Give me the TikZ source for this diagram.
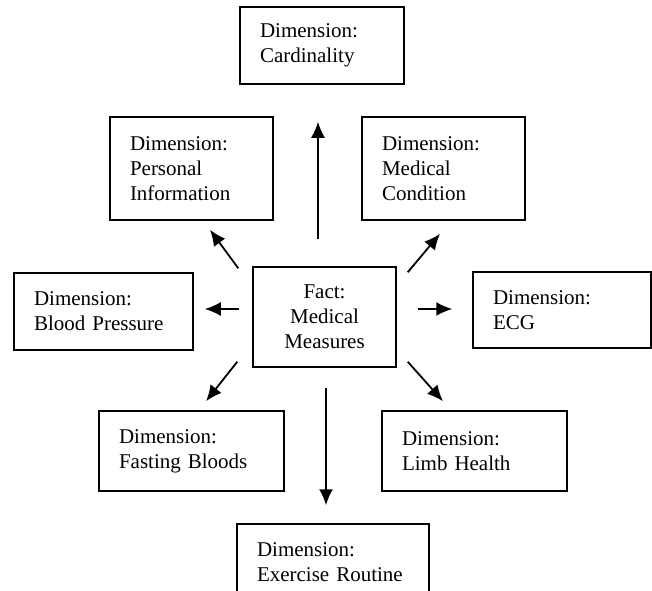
\documentclass[tikz,border=0pt]{standalone}
\usepackage{fontspec}
\setmainfont{Liberation Serif}
\usepackage{tikz}
\usetikzlibrary{positioning,calc,arrows.meta}
\definecolor{Ink}{HTML}{000000}
\tikzset{
	dimbox/.style={
		draw=Ink,
		line width=1.5pt,
		inner xsep=20pt,
		inner ysep=0pt,
		align=left,
		font=\fontsize{21}{25}\selectfont
	},
	linkarrow/.style={
		draw=Ink,
		line width=1.8pt,
		-{Latex[length=16pt,width=14pt]}
	}
}

\begin{document}
\begin{tikzpicture}[x=1pt,y=-1pt]
			\clip (0,0) rectangle (652,590);
			% fact in the middle
			\node[dimbox, align=center, text width=103pt, minimum height=100pt] (fact) at (324.5,317) {Fact:\\Medical\\Measures};
			% dimensions around it
			\node[dimbox, text width=124pt, minimum height=77pt] (card) at (322,45.5) {Dimension:\\Cardinality};
			\node[dimbox, text width=123pt, minimum height=103pt] (pers) at (191.5,168.5) {Dimension:\\Personal\\Information};
			\node[dimbox, text width=123pt, minimum height=103pt] (medc) at (443.5,168.5) {Dimension:\\Medical\\Condition};
			\node[dimbox, text width=139pt, minimum height=77pt] (bp) at (103.5,311.5) {Dimension:\\Blood Pressure};
			\node[dimbox, text width=138pt, minimum height=76pt] (ecg) at (562,310) {Dimension:\\ECG};
			\node[dimbox, text width=145pt, minimum height=80pt] (fast) at (191.5,451) {Dimension:\\Fasting Bloods};
			\node[dimbox, text width=145pt, minimum height=80pt] (limb) at (474.5,451) {Dimension:\\Limb Health};
			% bottom edge runs off the page
			\node[dimbox, text width=152pt, minimum height=77pt] (exer) at (333,562.5) {Dimension:\\Exercise Routine};
			
			% arrows from the fact
			\draw[linkarrow] ([xshift=-6.5pt,yshift=27pt]fact.north) -- ([xshift=-4pt,yshift=-37pt]card.south);
			\draw[linkarrow] ([xshift=-14pt,yshift=-2pt]fact.north west) -- ([xshift=18.5pt,yshift=-9pt]pers.south);
			\draw[linkarrow] ([xshift=11pt,yshift=-6pt]fact.north east) -- ([xshift=-3.5pt,yshift=-13pt]medc.south);
			\draw[linkarrow] ([xshift=-13pt,yshift=8pt]fact.west) -- ([xshift=11pt,yshift=2.5pt]bp.east);
			\draw[linkarrow] ([xshift=21pt,yshift=8pt]fact.east) -- ([xshift=-20pt,yshift=1pt]ecg.west);
			\draw[linkarrow] ([xshift=-15pt,yshift=6pt]fact.south west) -- ([xshift=14.5pt,yshift=9pt]fast.north);
			\draw[linkarrow] ([xshift=11pt,yshift=6pt]fact.south east) -- ([xshift=-31.5pt,yshift=9pt]limb.north);
			\draw[linkarrow] ([xshift=1.5pt,yshift=-20pt]fact.south) -- ([xshift=-7pt,yshift=18pt]exer.north);
		\end{tikzpicture}
\end{document}
